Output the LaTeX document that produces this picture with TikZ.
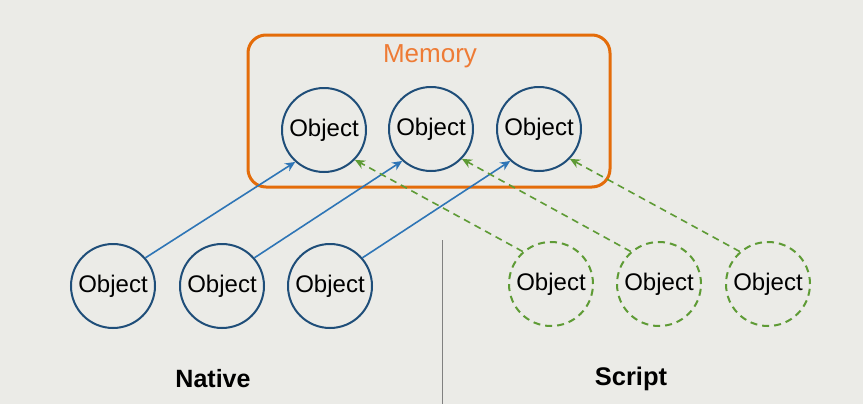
\documentclass[tikz,border=0pt]{standalone}
\usepackage{fontspec}
\setmainfont{Liberation Sans}
\usetikzlibrary{arrows.meta}

\definecolor{bgcol}{HTML}{EBEBE7}
\definecolor{objblue}{HTML}{1F4E79}
\definecolor{arrblue}{HTML}{2E75B6}
\definecolor{scrgreen}{HTML}{5E9B35}
\definecolor{memorange}{HTML}{E46C0A}
\definecolor{memtext}{HTML}{EE7B35}

\begin{document}
\begin{tikzpicture}[x=1pt,y=-1pt,
  obj/.style={circle, draw=objblue, line width=2pt, minimum size=84pt, inner sep=0pt, font=\fontsize{24}{26}\selectfont},
  sobj/.style={obj, draw=scrgreen, dash pattern=on 7pt off 5pt},
  nref/.style={draw=arrblue, line width=1.6pt, -{Stealth[length=10pt,width=9pt]}},
  sref/.style={draw=scrgreen, line width=1.6pt, dash pattern=on 7pt off 5pt, -{Stealth[length=10pt,width=9pt]}}]
\fill[bgcol] (0,0) rectangle (863,404);
% memory block
\node[draw=memorange, line width=3pt, rounded corners=18pt, minimum width=362pt, minimum height=152pt, inner sep=0pt] (mem) at (429,111) {};
\node[text=memtext, font=\fontsize{26}{28}\selectfont] (memlbl) at (430,56) {Memory};
\node[obj] (m1) at (324,130) {Object};
\node[obj] (m2) at (431,129) {Object};
\node[obj] (m3) at (539,129) {Object};
% native side
\node[obj] (n1) at (113,286) {Object};
\node[obj] (n2) at (222,286) {Object};
\node[obj] (n3) at (330,286) {Object};
% script side
\node[sobj] (s1) at (551,284) {Object};
\node[sobj] (s2) at (659,284) {Object};
\node[sobj] (s3) at (768,284) {Object};
\draw[nref] (n1.41) -- (m1.228);
\draw[nref] (n2.41) -- (m2.228);
\draw[nref] (n3.41) -- (m3.228);
\draw[sref] (s1.131) -- (m1.-44);
\draw[sref] (s2.131) -- (m2.-44);
\draw[sref] (s3.131) -- (m3.-44);
\draw[gray, line width=1pt] (442,240) -- (442,404);
\node[font=\bfseries\fontsize{25}{28}\selectfont] (native) at (213,379) {Native};
\node[font=\bfseries\fontsize{25.5}{28}\selectfont] (script) at (631,379) {Script};
\end{tikzpicture}
\end{document}
